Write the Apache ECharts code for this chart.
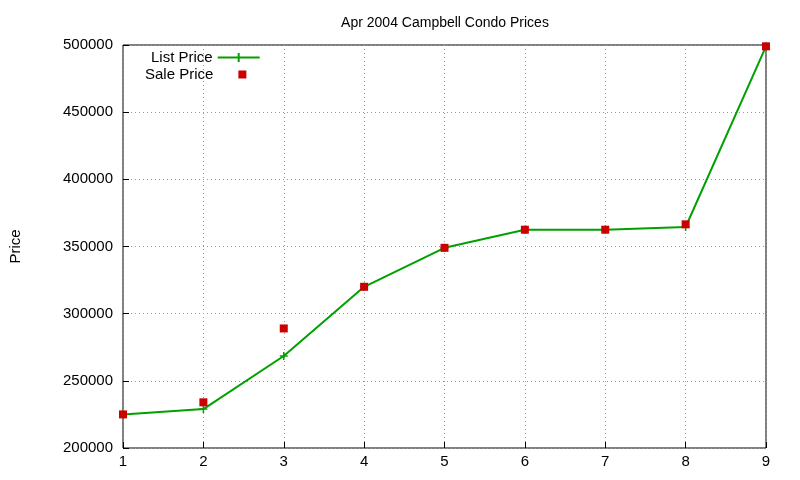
<!DOCTYPE html>
<html>
<head>
<meta charset="utf-8">
<script src="https://cdn.jsdelivr.net/npm/echarts@6/dist/echarts.min.js"></script>
<style>html,body{margin:0;padding:0;background:#fff}#c{width:800px;height:480px}</style>
</head>
<body>
<div id="c"></div>
<script>
const xs = [1, 2, 3, 4, 5, 6, 7, 8, 9];
const listPrice = [225000, 229000, 268500, 320000, 349000, 362500, 362500, 364500, 499000];
const salePrice = [225000, 234000, 289000, 320000, 349000, 362500, 362500, 366500, 499000];

const chart = echarts.init(document.getElementById('c'));
const font = 'Liberation Sans, Arial, sans-serif';
const gridLine = { show: true, lineStyle: { color: '#999', type: [1, 3], width: 1 } };

chart.setOption({
    animation: false,
    textStyle: { fontFamily: font },
    title: {
        text: 'Apr 2004 Campbell Condo Prices',
        left: 440, top: 11, textAlign: 'center',
        textStyle: { fontSize: 14, fontWeight: 'normal', color: '#000' }
    },
    grid: { left: 116, right: 34, top: 45, bottom: 32, show: true, borderColor: '#000', borderWidth: 1 },
    legend: [
        {
            orient: 'vertical', left: 146, top: 45, align: 'right',
            itemWidth: 42, itemHeight: 9,
            textStyle: { fontSize: 15, color: '#000' },
            data: [{ name: 'List Price', icon: 'path://M0,4.5L42,4.5M21,0L21,9' }]
        },
        {
            orient: 'vertical', left: 140, top: 62, align: 'right',
            itemWidth: 8, itemHeight: 8,
            textStyle: { fontSize: 15, color: '#000', padding: [0, 20, 0, 0] },
            data: [{ name: 'Sale Price', icon: 'rect' }]
        }
    ],
    xAxis: {
        type: 'value', min: 1, max: 9, interval: 1,
        axisLine: { show: false }, axisTick: { inside: true, length: 6, lineStyle: { color: '#000' } },
        axisLabel: { fontSize: 15, color: '#000', margin: 6 },
        splitLine: gridLine
    },
    yAxis: {
        type: 'value', min: 200000, max: 500000, interval: 50000,
        name: 'Price', nameLocation: 'middle', nameGap: 100, nameRotate: 90,
        nameTextStyle: { fontSize: 15, color: '#000' },
        axisLine: { show: false }, axisTick: { show: true, inside: true, length: 6, lineStyle: { color: '#000' } },
        axisLabel: { fontSize: 15, color: '#000', margin: 10, formatter: v => String(v) },
        splitLine: gridLine
    },
    series: [
        {
            name: 'List Price', type: 'line', z: 2,
            data: xs.map((x, i) => [x, listPrice[i]]),
            color: '#00a000', lineStyle: { width: 2 },
            symbol: 'path://M0,4L8,4M4,0L4,8', symbolSize: 8,
            itemStyle: { color: '#00a000', borderColor: '#00a000', borderWidth: 1.5 }
        },
        {
            name: 'Sale Price', type: 'scatter', z: 5,
            data: xs.map((x, i) => [x, salePrice[i]]),
            color: '#cc0000', symbol: 'rect', symbolSize: 8,
            itemStyle: { color: '#cc0000', opacity: 1 }
        }
    ]
});
</script>
</body>
</html>
